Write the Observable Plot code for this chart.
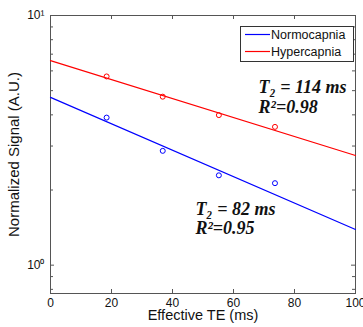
<!DOCTYPE html>
<html><head><meta charset="utf-8">
<script src="https://cdn.jsdelivr.net/npm/d3@7"></script>
<script src="https://cdn.jsdelivr.net/npm/@observablehq/plot@0.6"></script>
<style>
body{margin:0;background:#fff;}
#chart{position:relative;width:363px;height:327px;}
</style></head><body><div id="chart"></div>
<script>
// Data
const te = [18.4, 36.8, 55.2, 73.6];
const normo = [3.90, 2.87, 2.29, 2.13];
const hyper = [5.70, 4.73, 3.99, 3.58];
const fitTE = [0, 100];
const normoFit = [4.70, 1.39];
const hyperFit = [6.60, 2.75];
const seriesNames = ["Normocapnia", "Hypercapnia"];
const seriesColors = ["#0000ff", "#ff0000"];
const xTicks = [0, 20, 40, 60, 80, 100];
const yMajor = [1, 10];
const yMajorLabels = ["10⁰", "10¹"];
const yMinor = [0.8, 0.9, 2, 3, 4, 5, 6, 7, 8, 9];
const xLabel = "Effective TE (ms)";
const yLabel = "Normalized Signal (A.U.)";
const annotations = [
  {x: 68.2, y: 5.14, text: "T₂ = 114 ms"},
  {x: 68.2, y: 4.28, text: "R²=0.98"},
  {x: 47.5, y: 1.68, text: "T₂ = 82 ms"},
  {x: 47.5, y: 1.40, text: "R²=0.95"}
];

const pts = [];
te.forEach((t, i) => {
  pts.push({te: t, s: normo[i], series: seriesNames[0]});
  pts.push({te: t, s: hyper[i], series: seriesNames[1]});
});
const fits = [];
fitTE.forEach((t, i) => {
  fits.push({te: t, s: normoFit[i], series: seriesNames[0]});
  fits.push({te: t, s: hyperFit[i], series: seriesNames[1]});
});

const W = 363, H = 327, mL = 50, mR = 8, mT = 15, mB = 34;
const pw = W - mL - mR, ph = H - mT - mB;
const axisColor = "#555";

const plot = Plot.plot({
  width: W, height: H,
  marginLeft: mL, marginRight: mR, marginTop: mT, marginBottom: mB,
  style: {fontFamily: "'Liberation Sans', Arial, sans-serif", fontSize: "12px", color: "#111", background: "#fff"},
  x: {domain: [0, 100]},
  y: {type: "log", domain: [0.77, 10]},
  color: {domain: seriesNames, range: seriesColors},
  marks: [
    // tick marks pointing inward (bottom, top, left, right)
    Plot.ruleX(xTicks, {x: d => d, insetTop: ph - 4, stroke: axisColor}),
    Plot.ruleX(xTicks, {x: d => d, insetBottom: ph - 4, stroke: axisColor}),
    Plot.ruleY(yMajor, {y: d => d, insetRight: pw - 4, stroke: axisColor}),
    Plot.ruleY(yMajor, {y: d => d, insetLeft: pw - 4, stroke: axisColor}),
    Plot.ruleY(yMinor, {y: d => d, insetRight: pw - 3, stroke: axisColor}),
    Plot.ruleY(yMinor, {y: d => d, insetLeft: pw - 3, stroke: axisColor}),
    Plot.frame({stroke: axisColor}),
    Plot.axisX({ticks: xTicks, tickSize: 0, tickPadding: 5, label: null, tickFormat: d => String(d), fontSize: 12}),
    Plot.axisY({ticks: yMajor, tickSize: 0, tickPadding: 6, label: null,
      tickFormat: d => yMajorLabels[yMajor.indexOf(d)], fontSize: 12}),
    Plot.text([xLabel], {frameAnchor: "bottom", textAnchor: "middle", dy: 26, fontSize: 14.5, fill: "#111"}),
    Plot.text([yLabel], {frameAnchor: "left", textAnchor: "middle", dx: -36, rotate: -90, fontSize: 15, fill: "#111"}),
    Plot.line(fits, {x: "te", y: "s", z: "series", stroke: "series", strokeWidth: 1.2}),
    Plot.dot(pts, {x: "te", y: "s", stroke: "series", r: 2.5, strokeWidth: 1, fill: "none"}),
    Plot.text(annotations, {x: "x", y: "y", text: "text", textAnchor: "start",
      fontFamily: "'Liberation Serif', 'Times New Roman', serif", fontWeight: "bold",
      fontStyle: "italic", fontSize: 18, fill: "#111"})
  ]
});

// Legend box (MATLAB style) in the top-right corner
const svg = d3.select(plot);
const lg = svg.append("g").attr("font-family", "'Liberation Sans', Arial, sans-serif")
  .attr("font-size", 12.5).attr("text-anchor", "start");
lg.append("rect").attr("x", 240.5).attr("y", 26.5).attr("width", 113).attr("height", 35)
  .attr("fill", "#fff").attr("stroke", "#333").attr("stroke-width", 1);
seriesNames.forEach((name, i) => {
  const cy = 34.5 + i * 17;
  lg.append("line").attr("x1", 245).attr("x2", 270).attr("y1", cy).attr("y2", cy)
    .attr("stroke", seriesColors[i]).attr("stroke-width", 1.2);
  lg.append("text").attr("x", 271).attr("y", cy).attr("dy", "0.35em")
    .attr("text-anchor", "start").attr("fill", "#111").text(name);
});

document.getElementById("chart").appendChild(plot);
</script></body></html>
